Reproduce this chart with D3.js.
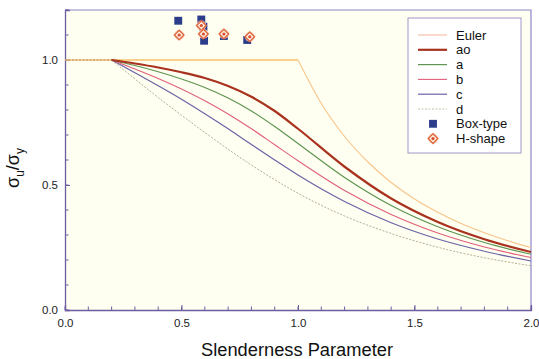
<!DOCTYPE html>
<html>
<head>
<meta charset="utf-8">
<script src="https://cdn.jsdelivr.net/npm/d3@7"></script>
<style>
  body { margin: 0; background: #fff; }
  svg { display: block; font-family: "Liberation Sans", Arial, sans-serif; }
</style>
</head>
<body>
<div id="chart"></div>
<script>
// slenderness values where the curves were read
let lam = [0.2, 0.3, 0.4, 0.5, 0.6, 0.7, 0.8, 0.9, 1.0, 1.2, 1.4, 1.6, 1.8, 2.0];
let curve_ao = [1.0, 0.986, 0.970, 0.951, 0.928, 0.896, 0.853, 0.796, 0.725, 0.573, 0.446, 0.352, 0.283, 0.232];
let curve_a  = [1.0, 0.978, 0.953, 0.924, 0.890, 0.848, 0.796, 0.734, 0.666, 0.530, 0.418, 0.333, 0.270, 0.223];
let curve_b  = [1.0, 0.964, 0.926, 0.884, 0.837, 0.784, 0.725, 0.661, 0.597, 0.478, 0.382, 0.308, 0.252, 0.210];
let curve_c  = [1.0, 0.949, 0.897, 0.843, 0.785, 0.725, 0.662, 0.600, 0.540, 0.434, 0.349, 0.284, 0.235, 0.196];
let curve_d  = [1.0, 0.924, 0.850, 0.779, 0.710, 0.643, 0.580, 0.521, 0.467, 0.376, 0.306, 0.251, 0.209, 0.177];

let euler_plateau_x = [0, 1.0];
let euler_x = [1.0, 1.1, 1.2, 1.3, 1.4, 1.5, 1.6, 1.7, 1.8, 1.9, 2.0];
let euler_y = [1.0, 0.826, 0.694, 0.592, 0.510, 0.444, 0.391, 0.346, 0.309, 0.277, 0.250];
let plateau_x = [0, 0.2];

let box_x = [0.486, 0.585, 0.594, 0.597, 0.682, 0.782];
let box_y = [1.157, 1.162, 1.133, 1.077, 1.096, 1.080];
let h_x = [0.490, 0.585, 0.594, 0.682, 0.793];
let h_y = [1.100, 1.138, 1.104, 1.104, 1.093];

let x_ticks = [0, 0.5, 1.0, 1.5, 2.0];
let y_ticks = [0, 0.5, 1.0];

let W = 539, H = 359;
let margin = {top: 10, right: 8, bottom: 49, left: 65};

let svg = d3.select("#chart").append("svg")
    .attr("width", W)
    .attr("height", H);

let x = d3.scaleLinear().domain([0, 2]).range([margin.left, W - margin.right]);
let y = d3.scaleLinear().domain([0, 1.2]).range([H - margin.bottom, margin.top]);

// plot background
svg.append("rect")
    .attr("x", x(0)).attr("y", y(1.2))
    .attr("width", x(2) - x(0)).attr("height", y(0) - y(1.2))
    .attr("fill", "#fefef1");

// frame top/right
svg.append("path")
    .attr("d", `M${x(0)},${y(1.2)}H${x(2)}V${y(0)}`)
    .attr("fill", "none")
    .attr("stroke", "#8c86c8")
    .attr("stroke-width", 1.2);

let minor = d3.range(0, 21).map(d => d / 10);
let minorY = d3.range(0, 13).map(d => d / 10);

let x_axis = g => g
    .attr("transform", `translate(0, ${y(0)})`)
    .call(d3.axisBottom(x).tickValues(x_ticks).tickFormat(d3.format(".1f"))
        .tickSize(-5).tickPadding(9))
    .call(g => g.append("g").selectAll("line").data(minor).join("line")
        .attr("x1", d => x(d)).attr("x2", d => x(d))
        .attr("y1", 0).attr("y2", -3.5).attr("stroke", "#6e5ea0"));

let y_axis = g => g
    .attr("transform", `translate(${x(0)}, 0)`)
    .call(d3.axisLeft(y).tickValues(y_ticks).tickFormat(d3.format(".1f"))
        .tickSize(-5).tickPadding(7))
    .call(g => g.append("g").selectAll("line").data(minorY).join("line")
        .attr("y1", d => y(d)).attr("y2", d => y(d))
        .attr("x1", 0).attr("x2", 3.5).attr("stroke", "#6e5ea0"));

svg.append("g").call(x_axis);
svg.append("g").call(y_axis);
svg.selectAll(".domain").attr("stroke", "#6e5ea0").attr("stroke-width", 1.3);
svg.selectAll(".tick line").attr("stroke", "#6e5ea0");
svg.selectAll(".tick text").attr("fill", "#222").style("font-size", "11.5px");

// curves
let line = d3.line()
    .x(d => x(d[0]))
    .y(d => y(d[1]))
    .curve(d3.curveMonotoneX);

let series = [
    {name: "d", vals: curve_d, color: "#b8ae94", width: 1, dash: "2,1.5"},
    {name: "c", vals: curve_c, color: "#6a64a6", width: 1.2, dash: null},
    {name: "b", vals: curve_b, color: "#e0607a", width: 1.1, dash: null},
    {name: "a", vals: curve_a, color: "#5e9450", width: 1.2, dash: null},
    {name: "ao", vals: curve_ao, color: "#a8321e", width: 2.2, dash: null},
];

let plot = svg.append("g");

plot.append("path")
    .datum(euler_plateau_x.map(d => [d, 1.0]))
    .attr("fill", "none")
    .attr("stroke", "#f6c36a")
    .attr("stroke-width", 1.6)
    .attr("d", line);

plot.append("path")
    .datum(euler_x.map((d, i) => [d, euler_y[i]]))
    .attr("fill", "none")
    .attr("stroke", "#f7c58a")
    .attr("stroke-width", 1.1)
    .attr("d", line);

plot.append("path")
    .datum(plateau_x.map(d => [d, 1.0]))
    .attr("fill", "none")
    .attr("stroke", "#b08a70")
    .attr("stroke-width", 1)
    .attr("stroke-dasharray", "2,1.5")
    .attr("d", line);

series.forEach(s => {
    plot.append("path")
        .datum(lam.map((d, i) => [d, s.vals[i]]))
        .attr("fill", "none")
        .attr("stroke", s.color)
        .attr("stroke-width", s.width)
        .attr("stroke-dasharray", s.dash)
        .attr("d", line);
});

// test points
let sq = d3.symbol().type(d3.symbolSquare).size(62);
let dia = d3.symbol().type(d3.symbolSquare).size(46);

plot.selectAll(".box").data(box_x.map((d, i) => [d, box_y[i]])).join("path")
    .attr("transform", d => `translate(${x(d[0])},${y(d[1])})`)
    .attr("d", sq)
    .attr("fill", "#2b3d8a");

function h_marker(g) {
    g.append("circle").attr("r", 5).attr("fill", "#f6cdb8").attr("opacity", 0.8);
    g.append("path").attr("d", dia).attr("transform", "rotate(45)")
        .attr("fill", "#fdeee4")
        .attr("stroke", "#e2683e")
        .attr("stroke-width", 1.4);
    g.append("circle").attr("r", 1.6).attr("fill", "#d8502e");
}

let hg = plot.selectAll(".hs").data(h_x.map((d, i) => [d, h_y[i]])).join("g")
    .attr("transform", d => `translate(${x(d[0])},${y(d[1])})`);
hg.call(h_marker);

// legend
let lg = svg.append("g").attr("transform", "translate(408, 18)");
lg.append("rect")
    .attr("width", 113).attr("height", 135)
    .attr("fill", "#fff")
    .attr("stroke", "#a496c8")
    .attr("stroke-width", 1);

let legend_items = [
    {name: "Euler", color: "#f8c0a8", width: 1.2},
    {name: "ao", color: "#a8321e", width: 2.2},
    {name: "a", color: "#5e9450", width: 1.2},
    {name: "b", color: "#e0607a", width: 1.1},
    {name: "c", color: "#6a64a6", width: 1.2},
    {name: "d", color: "#c8bea8", width: 1, dash: "2,1.5"},
];
legend_items.forEach((d, i) => {
    let yy = 17 + i * 14.8;
    lg.append("line")
        .attr("x1", 10).attr("x2", 39).attr("y1", yy).attr("y2", yy)
        .attr("stroke", d.color).attr("stroke-width", d.width)
        .attr("stroke-dasharray", d.dash || null);
    lg.append("text")
        .attr("x", 48).attr("y", yy).attr("dy", "0.35em")
        .style("font-size", "13px").attr("fill", "#111")
        .text(d.name);
});
let yb = 17 + 6 * 14.8, yh = 17 + 7 * 14.8;
lg.append("path").attr("transform", `translate(25, ${yb})`).attr("d", sq).attr("fill", "#2b3d8a");
lg.append("g").attr("transform", `translate(25, ${yh})`).call(h_marker);
lg.append("text").attr("x", 48).attr("y", yb).attr("dy", "0.35em")
    .style("font-size", "13px").attr("fill", "#111").text("Box-type");
lg.append("text").attr("x", 48).attr("y", yh).attr("dy", "0.35em")
    .style("font-size", "13px").attr("fill", "#111").text("H-shape");

// axis titles
svg.append("text")
    .attr("x", 297).attr("y", 356)
    .attr("text-anchor", "middle")
    .style("font-size", "18.3px")
    .attr("fill", "#111")
    .text("Slenderness Parameter");

let yl = svg.append("text")
    .attr("transform", "translate(19, 168) rotate(-90)")
    .attr("text-anchor", "middle")
    .style("font-size", "18px")
    .attr("fill", "#111");
yl.append("tspan").text("σ");
yl.append("tspan").attr("dy", 5).style("font-size", "12px").text("u");
yl.append("tspan").attr("dy", -5).text("/σ");
yl.append("tspan").attr("dy", 5).style("font-size", "12px").text("y");
</script>
</body>
</html>
